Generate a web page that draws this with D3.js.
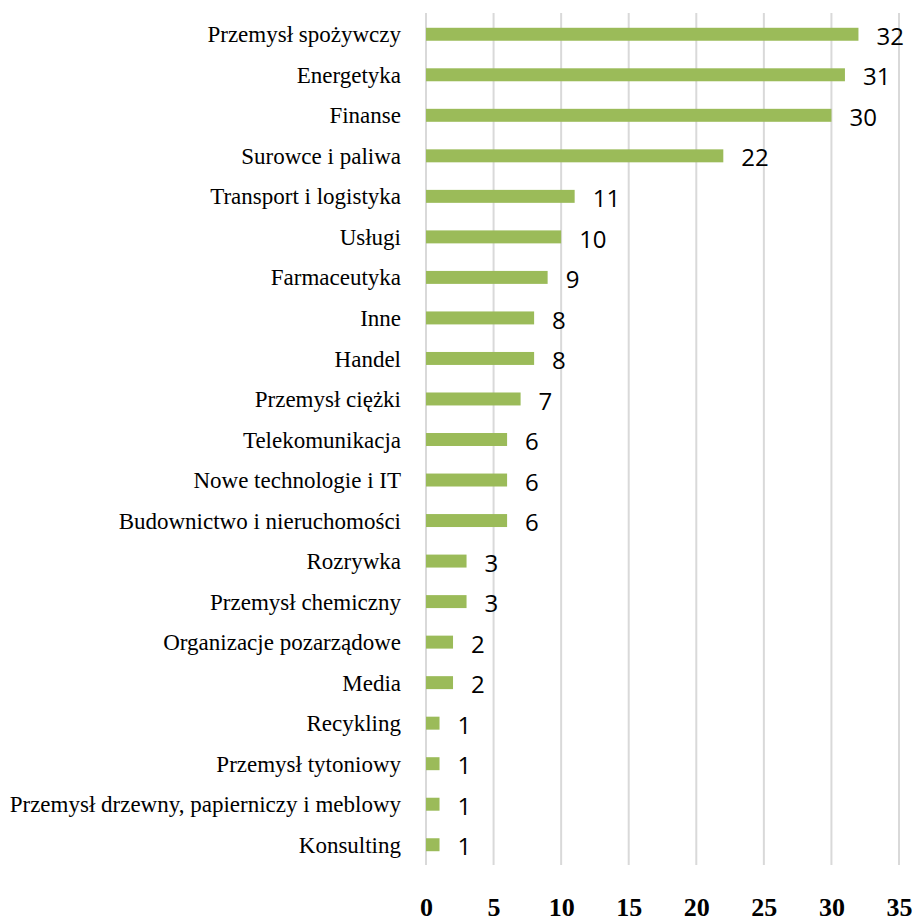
<!DOCTYPE html>
<html>
<head>
<meta charset="utf-8">
<script src="https://cdn.jsdelivr.net/npm/d3@7"></script>
<style>
  html, body { margin: 0; padding: 0; background: #fff; }
  svg { display: block; }
</style>
</head>
<body>
<svg id="chart" width="915" height="921"></svg>
<script>
const categories = ["Przemysł spożywczy","Energetyka","Finanse","Surowce i paliwa","Transport i logistyka","Usługi","Farmaceutyka","Inne","Handel","Przemysł ciężki","Telekomunikacja","Nowe technologie i IT","Budownictwo i nieruchomości","Rozrywka","Przemysł chemiczny","Organizacje pozarządowe","Media","Recykling","Przemysł tytoniowy","Przemysł drzewny, papierniczy i meblowy","Konsulting"];
const values = [32,31,30,22,11,10,9,8,8,7,6,6,6,3,3,2,2,1,1,1,1];
const xTicks = [0,5,10,15,20,25,30,35];

const svg = d3.select("#chart");
const x = d3.scaleLinear().domain([0,35]).range([426,899]);
const y = d3.scaleBand().domain(categories).range([14,865]).paddingInner(0.68).paddingOuter(0.34);

// gridlines
svg.append("g").selectAll("line").data(xTicks).join("line")
  .attr("x1", d => x(d)).attr("x2", d => x(d))
  .attr("y1", 13).attr("y2", 865)
  .attr("stroke", "#d9d9d9").attr("stroke-width", 2);

// bars
svg.append("g").selectAll("rect").data(values).join("rect")
  .attr("x", x(0))
  .attr("y", (d,i) => y(categories[i]))
  .attr("width", d => x(d) - x(0))
  .attr("height", y.bandwidth())
  .attr("fill", "#9bbb59");

// value labels
svg.append("g").selectAll("text").data(values).join("text")
  .attr("x", d => x(d) + 18)
  .attr("y", (d,i) => y(categories[i]) + y.bandwidth()/2 + 2)
  .attr("dy", "0.36em")
  .attr("font-family", "'Open Sans', sans-serif")
  .attr("font-size", 24)
  .attr("fill", "#000")
  .text(d => d);

// category labels
svg.append("g").selectAll("text").data(categories).join("text")
  .attr("x", 401)
  .attr("y", d => y(d) + y.bandwidth()/2)
  .attr("dy", "0.35em")
  .attr("text-anchor", "end")
  .attr("font-family", "'Liberation Serif', 'Times New Roman', serif")
  .attr("font-size", 23)
  .attr("fill", "#000")
  .text(d => d);

// x axis tick labels
const xAxis = d3.axisBottom(x).tickValues(xTicks).tickSize(0).tickPadding(0);
const ax = svg.append("g").attr("transform", "translate(0,916)").call(xAxis);
ax.select(".domain").remove();
ax.selectAll("text")
  .attr("y", 0).attr("dy", 0)
  .attr("font-family", "'Liberation Serif', 'Times New Roman', serif")
  .attr("font-weight", "bold")
  .attr("font-size", 26)
  .attr("fill", "#000");
</script>
</body>
</html>
